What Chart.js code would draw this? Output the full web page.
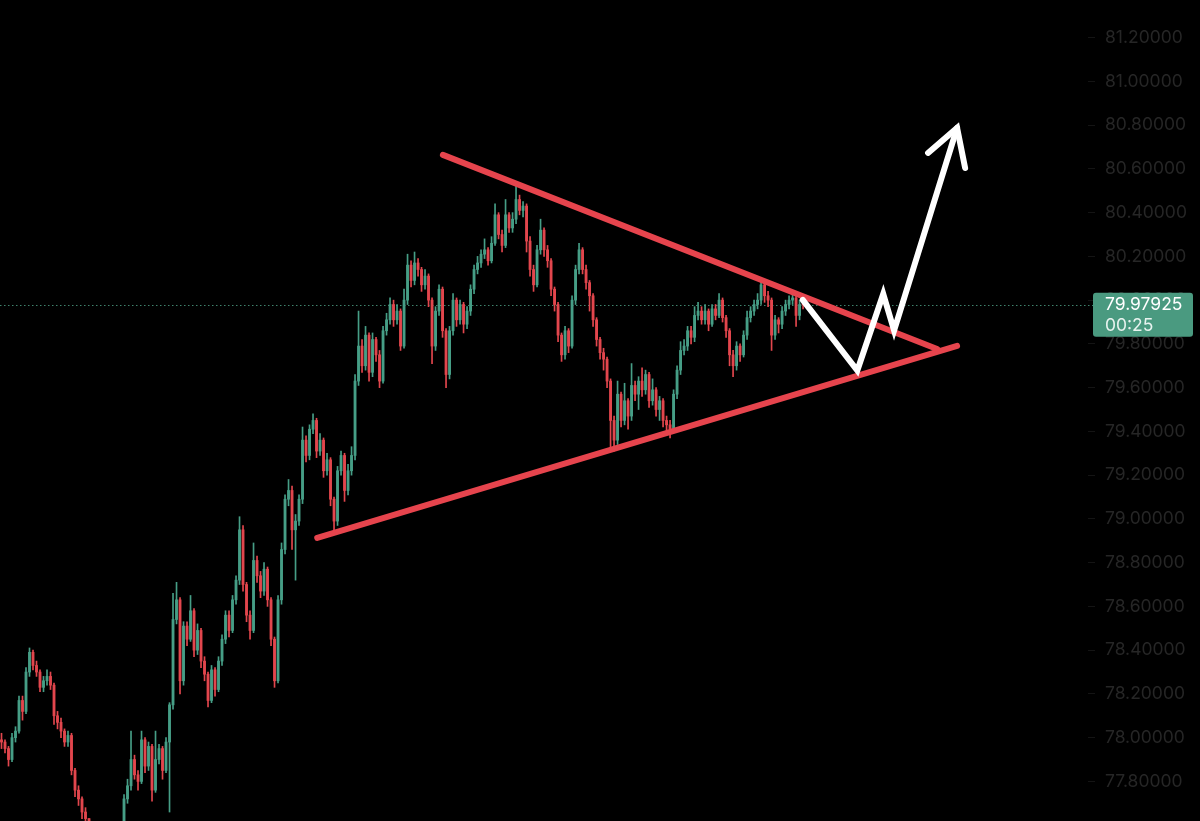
<!DOCTYPE html>
<html>
<head>
<meta charset="utf-8">
<title>Symmetrical triangle</title>
<script src="https://cdn.jsdelivr.net/npm/chart.js@4"></script>
<style>
  html, body { margin: 0; padding: 0; background: #000; }
  #wrap { width: 1200px; height: 821px; position: relative; }
</style>
</head>
<body>
<div id="wrap"><canvas id="priceChart"></canvas></div>
<script>
// candle data (one candle per index)
const firstOpen = 77.99;
const closes = [
  77.98, 77.95, 77.90, 78.00, 78.03, 78.17, 78.12, 78.30, 78.39, 78.33,
  78.30, 78.23, 78.26, 78.28, 78.24, 78.10, 78.07, 78.03, 77.98, 78.01,
  77.85, 77.76, 77.72, 77.66, 77.63, 77.55, 77.50, 77.45, 77.42, 77.40,
  77.38, 77.42, 77.46, 77.50, 77.56, 77.72, 77.78, 77.90, 77.83, 77.80,
  77.99, 77.87, 77.96, 77.76, 77.90, 77.95, 77.85, 77.98, 78.15, 78.54,
  78.63, 78.26, 78.51, 78.45, 78.58, 78.40, 78.49, 78.35, 78.29, 78.17,
  78.31, 78.22, 78.35, 78.45, 78.56, 78.49, 78.63, 78.72, 78.95, 78.70,
  78.56, 78.49, 78.81, 78.74, 78.67, 78.77, 78.63, 78.45, 78.26, 78.63,
  78.86, 79.09, 79.13, 78.95, 78.99, 79.09, 79.36, 79.29, 79.41, 79.45,
  79.31, 79.36, 79.22, 79.27, 79.09, 78.99, 79.22, 79.29, 79.13, 79.22,
  79.29, 79.63, 79.79, 79.70, 79.84, 79.67, 79.82, 79.75, 79.63, 79.86,
  79.91, 79.98, 79.91, 79.95, 79.79, 80.00, 80.16, 80.09, 80.17, 80.14,
  80.07, 80.11, 80.00, 79.79, 79.95, 80.05, 79.86, 79.66, 79.86, 80.00,
  79.91, 79.98, 79.89, 79.95, 80.05, 80.14, 80.17, 80.21, 80.23, 80.18,
  80.26, 80.39, 80.30, 80.25, 80.39, 80.33, 80.37, 80.46, 80.41, 80.43,
  80.27, 80.14, 80.07, 80.23, 80.32, 80.23, 80.18, 80.05, 79.98, 79.84,
  79.75, 79.86, 79.79, 80.00, 80.14, 80.23, 80.14, 80.08, 80.02, 79.91,
  79.82, 79.76, 79.73, 79.63, 79.45, 79.36, 79.57, 79.45, 79.54, 79.47,
  79.61, 79.57, 79.63, 79.59, 79.66, 79.54, 79.59, 79.50, 79.54, 79.45,
  79.43, 79.41, 79.57, 79.68, 79.77, 79.79, 79.86, 79.83, 79.93, 79.95,
  79.91, 79.95, 79.89, 79.96, 79.93, 80.00, 79.92, 79.86, 79.75, 79.70,
  79.79, 79.75, 79.84, 79.92, 79.95, 79.98, 80.00, 80.07, 80.02, 80.00,
  79.84, 79.91, 79.89, 79.95, 79.98, 80.00, 80.01, 79.93, 79.98, 79.97925
];
const highs = [
  78.02, 77.99, 77.96, 78.02, 78.05, 78.19, 78.19, 78.32, 78.41, 78.40,
  78.35, 78.31, 78.28, 78.31, 78.30, 78.25, 78.12, 78.09, 78.04, 78.03,
  78.02, 77.86, 77.78, 77.73, 77.68, 77.63, 77.57, 77.52, 77.47, 77.44,
  77.42, 77.44, 77.48, 77.52, 77.58, 77.74, 77.81, 78.03, 77.92, 77.85,
  78.03, 78.00, 77.98, 77.97, 78.03, 77.97, 77.96, 78.00, 78.16, 78.66,
  78.71, 78.64, 78.53, 78.53, 78.65, 78.59, 78.52, 78.50, 78.37, 78.30,
  78.33, 78.32, 78.37, 78.47, 78.58, 78.58, 78.65, 78.74, 79.01, 78.97,
  78.71, 78.58, 78.89, 78.83, 78.76, 78.80, 78.78, 78.64, 78.46, 78.65,
  78.89, 79.11, 79.18, 79.15, 79.02, 79.11, 79.42, 79.38, 79.43, 79.48,
  79.46, 79.39, 79.37, 79.30, 79.28, 79.10, 79.24, 79.31, 79.30, 79.25,
  79.33, 79.66, 79.95, 79.82, 79.88, 79.85, 79.85, 79.83, 79.77, 79.88,
  79.94, 80.01, 80.00, 79.98, 79.96, 80.05, 80.21, 80.18, 80.22, 80.19,
  80.15, 80.14, 80.12, 80.01, 79.97, 80.07, 80.06, 79.87, 79.88, 80.03,
  80.01, 80.00, 79.99, 79.97, 80.07, 80.16, 80.20, 80.23, 80.28, 80.24,
  80.29, 80.44, 80.40, 80.32, 80.46, 80.40, 80.40, 80.52, 80.48, 80.45,
  80.44, 80.29, 80.16, 80.25, 80.37, 80.33, 80.25, 80.19, 80.06, 79.99,
  79.85, 79.88, 79.87, 80.02, 80.16, 80.26, 80.24, 80.16, 80.09, 80.03,
  79.92, 79.83, 79.78, 79.74, 79.64, 79.47, 79.63, 79.58, 79.62, 79.55,
  79.71, 79.63, 79.65, 79.69, 79.68, 79.67, 79.64, 79.60, 79.56, 79.55,
  79.47, 79.45, 79.59, 79.70, 79.81, 79.82, 79.88, 79.88, 79.97, 79.99,
  79.97, 79.98, 79.96, 79.98, 79.98, 80.03, 80.01, 79.93, 79.87, 79.77,
  79.81, 79.80, 79.86, 79.95, 79.97, 80.00, 80.03, 80.09, 80.08, 80.04,
  80.01, 79.93, 79.92, 79.97, 80.00, 80.02, 80.03, 80.02, 80.00, 80.00
];
const lows = [
  77.95, 77.93, 77.87, 77.89, 77.98, 78.02, 78.08, 78.11, 78.28, 78.31,
  78.28, 78.21, 78.21, 78.24, 78.22, 78.06, 78.04, 78.00, 77.96, 77.96,
  77.83, 77.73, 77.69, 77.63, 77.58, 77.52, 77.47, 77.42, 77.39, 77.37,
  77.35, 77.36, 77.40, 77.44, 77.48, 77.55, 77.70, 77.76, 77.81, 77.76,
  77.79, 77.84, 77.85, 77.71, 77.75, 77.88, 77.81, 77.84, 77.66, 78.13,
  78.52, 78.20, 78.24, 78.42, 78.44, 78.37, 78.38, 78.32, 78.26, 78.14,
  78.16, 78.19, 78.21, 78.33, 78.43, 78.46, 78.48, 78.61, 78.70, 78.67,
  78.53, 78.45, 78.48, 78.71, 78.64, 78.65, 78.60, 78.42, 78.23, 78.25,
  78.61, 78.84, 79.06, 78.86, 78.72, 78.97, 79.07, 79.26, 79.27, 79.39,
  79.28, 79.29, 79.19, 79.20, 79.06, 78.94, 78.97, 79.20, 79.08, 79.11,
  79.20, 79.27, 79.61, 79.67, 79.68, 79.63, 79.65, 79.72, 79.60, 79.62,
  79.84, 79.89, 79.88, 79.89, 79.77, 79.78, 79.98, 80.06, 80.07, 80.11,
  80.04, 80.05, 79.97, 79.71, 79.77, 79.93, 79.83, 79.60, 79.64, 79.84,
  79.88, 79.89, 79.85, 79.87, 79.93, 80.03, 80.12, 80.15, 80.19, 80.16,
  80.17, 80.25, 80.28, 80.22, 80.24, 80.31, 80.31, 80.35, 80.39, 80.38,
  80.22, 80.11, 80.04, 80.06, 80.21, 80.20, 80.15, 80.02, 79.95, 79.81,
  79.72, 79.73, 79.76, 79.78, 79.98, 80.12, 80.12, 80.05, 79.95, 79.88,
  79.79, 79.73, 79.68, 79.60, 79.31, 79.31, 79.34, 79.42, 79.43, 79.41,
  79.45, 79.54, 79.50, 79.56, 79.57, 79.51, 79.52, 79.47, 79.45, 79.42,
  79.39, 79.37, 79.40, 79.55, 79.66, 79.75, 79.77, 79.80, 79.81, 79.91,
  79.89, 79.89, 79.86, 79.88, 79.91, 79.92, 79.90, 79.83, 79.70, 79.65,
  79.68, 79.72, 79.74, 79.82, 79.90, 79.93, 79.96, 79.98, 79.99, 79.97,
  79.77, 79.82, 79.85, 79.87, 79.93, 79.96, 79.98, 79.88, 79.91, 79.96
];
// each candle opens where the previous one closed
const opens = closes.map((c, i) => (i === 0 ? firstOpen : closes[i - 1]));

// hand-drawn annotations, in (candle index, price)
const upperTrend = [{ x: 126.1, y: 80.664 }, { x: 267.3, y: 79.777 }];
const lowerTrend = [{ x: 90.2, y: 78.913 }, { x: 273.0, y: 79.791 }];
const projection = [
  { x: 228.9, y: 80.001 }, { x: 244.5, y: 79.678 }, { x: 251.9, y: 80.028 },
  { x: 255.0, y: 79.861 }, { x: 273.0, y: 80.787 }
];
const arrowHead = [{ x: 264.7, y: 80.673 }, { x: 273.0, y: 80.787 }, { x: 275.3, y: 80.604 }];

const timerText = '00:25';
const lastPrice = closes[closes.length - 1];

const UP = '#469e86';
const DOWN = '#e2464d';
const TREND = '#e6444d';
const TAG = '#4a9a80';
const FONT = 'Inter, "Noto Sans", sans-serif';

const candleColor = ctx => (closes[ctx.dataIndex] >= opens[ctx.dataIndex] ? UP : DOWN);

// dotted last-price line + price tag on the axis
const priceTag = {
    id: 'priceTag',
    beforeDatasetsDraw(chart) {
        const y = Math.round(chart.scales.y.getPixelForValue(lastPrice)) + 0.5;
        const c = chart.ctx;
        c.save();
        c.strokeStyle = 'rgba(74,154,128,0.85)';
        c.lineWidth = 1;
        c.setLineDash([1.5, 2.5]);
        c.beginPath();
        c.moveTo(chart.chartArea.left, y);
        c.lineTo(1093, y);
        c.stroke();
        c.restore();
    },
    afterDraw(chart) {
        const y = chart.scales.y.getPixelForValue(lastPrice);
        const c = chart.ctx;
        const left = 1093, top = y - 12, w = 100, h = 44, r = 3;
        c.save();
        c.fillStyle = TAG;
        c.beginPath();
        c.roundRect(left, top, w, h, r);
        c.fill();
        c.fillStyle = '#ffffff';
        c.font = '17.5px ' + FONT;
        c.textBaseline = 'middle';
        c.textAlign = 'left';
        c.fillText(lastPrice.toFixed(5), 1105, y);
        c.fillStyle = '#e8f3ef';
        c.fillText(timerText, 1105, y + 21);
        c.restore();
    }
};

const ctx = document.getElementById('priceChart').getContext('2d');
new Chart(ctx, {
    type: 'bar',
    data: {
        datasets: [
            {
                type: 'line', data: projection, order: 1, clip: false,
                borderColor: '#ffffff', borderWidth: 6, pointRadius: 0,
                borderJoinStyle: 'miter', borderCapStyle: 'round', tension: 0
            },
            {
                type: 'line', data: arrowHead, order: 1, clip: false,
                borderColor: '#ffffff', borderWidth: 6, pointRadius: 0,
                borderJoinStyle: 'miter', borderCapStyle: 'round', tension: 0
            },
            {
                type: 'line', data: upperTrend, order: 2,
                borderColor: TREND, borderWidth: 6, pointRadius: 0,
                borderCapStyle: 'round'
            },
            {
                type: 'line', data: lowerTrend, order: 2,
                borderColor: TREND, borderWidth: 6, pointRadius: 0,
                borderCapStyle: 'round'
            },
            {
                label: 'body', order: 3, grouped: false,
                data: closes.map((c, i) => ({ x: i, y: [opens[i], c] })),
                backgroundColor: candleColor, barThickness: 2.2, minBarLength: 1
            },
            {
                label: 'wick', order: 4, grouped: false,
                data: closes.map((c, i) => ({ x: i, y: [lows[i], highs[i]] })),
                backgroundColor: candleColor, barThickness: 1
            }
        ]
    },
    options: {
        responsive: true,
        maintainAspectRatio: false,
        animation: false,
        devicePixelRatio: 1,
        layout: { padding: 0 },
        plugins: { legend: { display: false }, tooltip: { enabled: false } },
        scales: {
            x: {
                type: 'linear', display: false, offset: false,
                min: -0.43, max: 310.4
            },
            y: {
                position: 'right',
                min: 77.619, max: 81.372,
                // fixed axis width, and let the plot run the full height
                afterFit: s => { s.width = 112; s.paddingTop = 0; s.paddingBottom = 0; },
                border: { display: false },
                grid: { drawOnChartArea: false, drawTicks: true, tickLength: 7, color: '#141414' },
                ticks: {
                    stepSize: 0.2, includeBounds: false, padding: 10,
                    color: '#262626', font: { family: FONT, size: 17.5 },
                    callback: v => v.toFixed(5)
                }
            }
        }
    },
    plugins: [priceTag]
});
</script>
</body>
</html>
